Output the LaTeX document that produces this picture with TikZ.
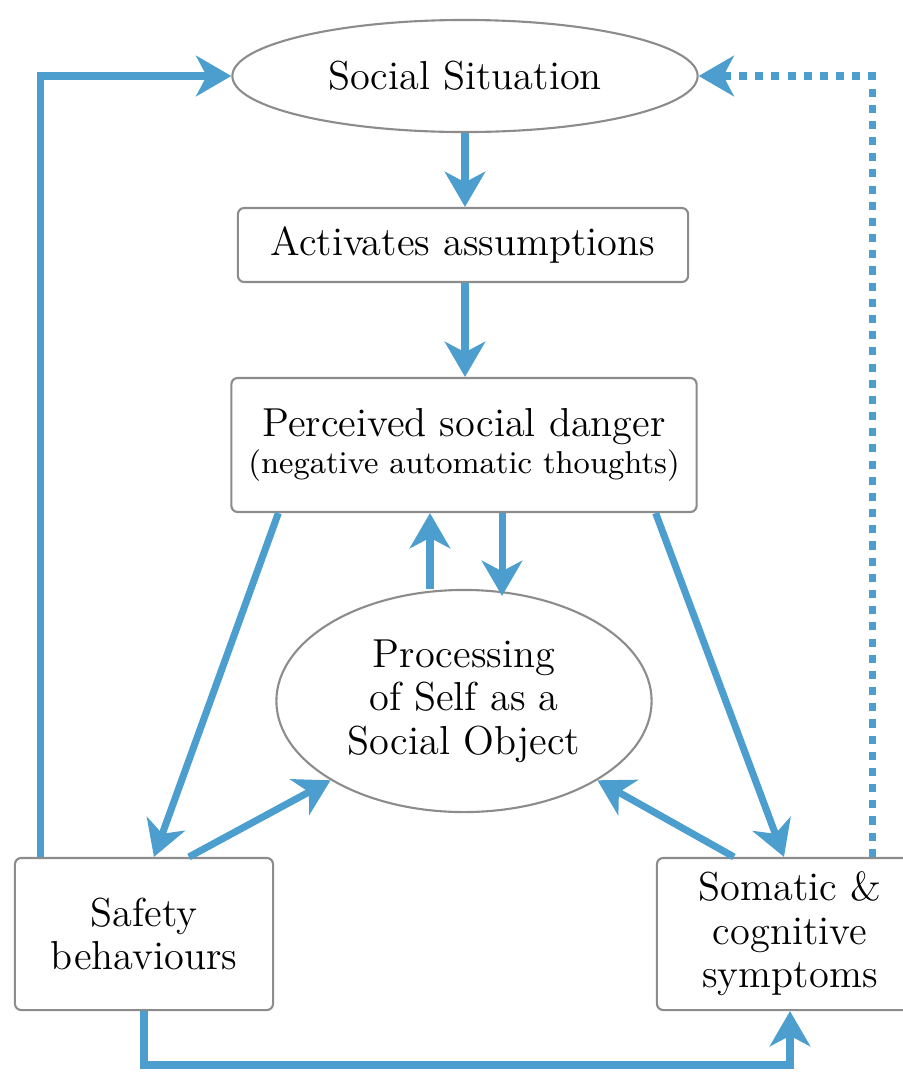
\documentclass[tikz,border=0pt]{standalone}
\usepackage{tikz}
\usetikzlibrary{shapes.geometric,arrows.meta,positioning,calc}
\definecolor{flowblue}{RGB}{75,158,206}
\definecolor{boxgray}{RGB}{140,140,140}

\begin{document}
\begin{tikzpicture}[x=0.01cm,y=-0.01cm,
  font=\fontsize{11.5}{12.4}\selectfont,
  box/.style={draw=boxgray, line width=0.6pt, rounded corners=1.8pt, fill=white, align=center, inner sep=0pt},
  oval/.style={draw=boxgray, line width=0.6pt, ellipse, fill=white, align=center, inner sep=0pt},
  flow/.style={draw=flowblue, line width=2pt, -{Stealth[length=10pt,width=11.5pt,inset=3pt]}},
  loopback/.style={flow, dash pattern=on 2.3pt off 2.3pt}]
\useasboundingbox (0,0) rectangle (903,1072);
% nodes
\node[oval, minimum width=4.65cm, minimum height=1.12cm] (sit) at (465,76) {Social Situation};
\node[box, minimum width=4.5cm, minimum height=0.74cm] (act) at (463,245) {Activates assumptions};
\node[box, minimum width=4.65cm, minimum height=1.34cm] (dan) at (464,445)
  {Perceived social danger\\[-2pt]{\fontsize{9}{10}\selectfont (negative automatic thoughts)}};
\node[oval, minimum width=3.75cm, minimum height=2.22cm] (proc) at (464,701)
  {Processing\\of Self as a\\Social Object};
\node[box, minimum width=2.58cm, minimum height=1.52cm] (safe) at (144,934) {Safety\\behaviours};
\node[box, minimum width=2.66cm, minimum height=1.52cm] (som) at (790,934) {Somatic \&\\cognitive\\symptoms};
\coordinate (low) at (464,1065);
% connectors
\draw[flow] (sit.south) -- (sit.south |- act.north);
\draw[flow] (sit.south |- act.south) -- (sit.south |- dan.north);
\draw[flow] ([xshift=-0.34cm]proc.north) -- ([xshift=-0.34cm]dan.south);
\draw[flow] ([xshift=0.38cm]dan.south) -- ([xshift=0.38cm,yshift=-2pt]proc.north);
\draw[flow] ([xshift=0.48cm]dan.south west) -- ([xshift=1.4cm]safe.north west);
\draw[flow] ([xshift=-0.42cm]dan.south east) -- ([xshift=1.28cm]som.north west);
\draw[flow] ([xshift=1.75cm]safe.north west) -- (proc.south west);
\draw[flow] ([xshift=0.78cm]som.north west) -- (proc.south east);
\draw[flow] ([xshift=0.27cm]safe.north west) |- (sit.west);
\draw[flow] (safe.south) -- (safe.south |- low) -| (som.south);
\draw[loopback] ([xshift=0.82cm]som.north) |- (sit.east);
\end{tikzpicture}
\end{document}
